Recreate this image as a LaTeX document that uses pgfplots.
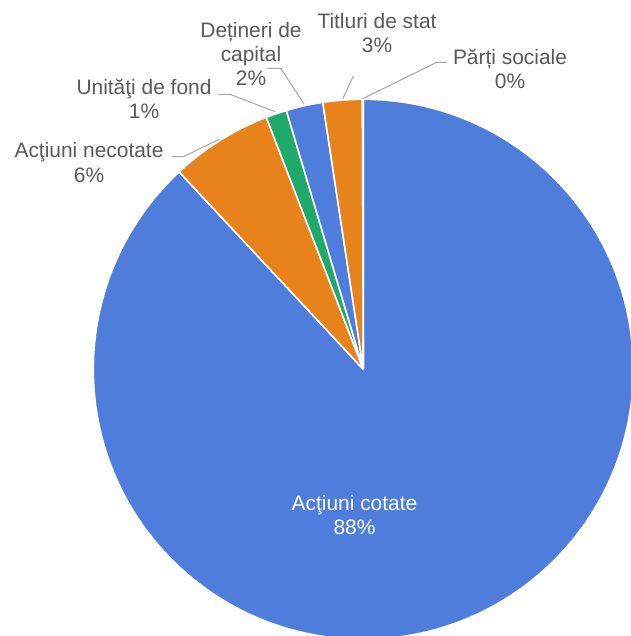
\documentclass[border=0pt]{standalone}
\usepackage{fontspec}
\setmainfont{Liberation Sans}
\usepackage{pgfplots}
\usepackage{pgfplotstable}
\pgfplotsset{compat=1.18}
\definecolor{pieblue}{HTML}{4E7DDB}
\definecolor{pieorange}{HTML}{E8821A}
\definecolor{piegreen}{HTML}{1FA96A}
\definecolor{lbl}{HTML}{595959}
\definecolor{lead}{HTML}{A6A6A6}

\pgfplotstableread{
name value col
cotate 88.05 pieblue
necotate 6.10 pieorange
unitati 1.25 piegreen
detineri 2.20 pieblue
titluri 2.35 pieorange
parti 0.05 piegreen
}\piedata

\begin{document}
\begin{tikzpicture}
\begin{axis}[name=ax, x=1bp, y=1bp, xmin=0, xmax=631, ymin=0, ymax=636,
  hide axis, clip=true]
\def\startang{90}
\pgfplotsforeachungrouped \i in {0,...,5}{%
  \pgfplotstablegetelem{\i}{value}\of\piedata \let\v\pgfplotsretval
  \pgfplotstablegetelem{\i}{col}\of\piedata \let\c\pgfplotsretval
  \pgfmathsetmacro\endang{\startang-3.6*\v}%
  \edef\temp{\noexpand\filldraw[fill=\c, draw=white, line width=1.6bp, line join=round] (axis cs:363.3,266.7) -- ++(\startang:270bp) arc[start angle=\startang, end angle=\endang, radius=270bp] -- cycle;}%
  \temp
  \global\let\startang\endang
}
\tikzset{lab/.style={font=\fontsize{21}{24.5}\selectfont, text=lbl, align=center, inner sep=0pt, anchor=center}}
\node[lab, text=white] at (axis cs:354.5,121) {Acţiuni cotate\\88\%};
\node[lab] at (axis cs:89,473.5) {Acţiuni necotate\\6\%};
\node[lab] at (axis cs:144,537) {Unităţi de fond\\1\%};
\node[lab] at (axis cs:251,582) {Dețineri de\\capital\\2\%};
\node[lab] at (axis cs:377,603) {Titluri de stat\\3\%};
\node[lab] at (axis cs:510,567) {Părți sociale\\0\%};
\draw[lead, line width=1bp] (axis cs:219.3,496.7) -- (axis cs:183.3,479.3) -- (axis cs:171.7,479.3);
\draw[lead, line width=1bp] (axis cs:218.3,541.7) -- (axis cs:230,541.7) -- (axis cs:275,524.3);
\draw[lead, line width=1bp] (axis cs:267.3,567.7) -- (axis cs:280.7,567.7) -- (axis cs:304,532);
\draw[lead, line width=1bp] (axis cs:353.3,560) -- (axis cs:342.7,537);
\draw[lead, line width=1bp] (axis cs:446.7,573.7) -- (axis cs:436.7,573.7) -- (axis cs:362.7,537.3);
\end{axis}
\pgfresetboundingbox
\path[use as bounding box] (ax.south west) rectangle (ax.north east);
\end{tikzpicture}
\end{document}
